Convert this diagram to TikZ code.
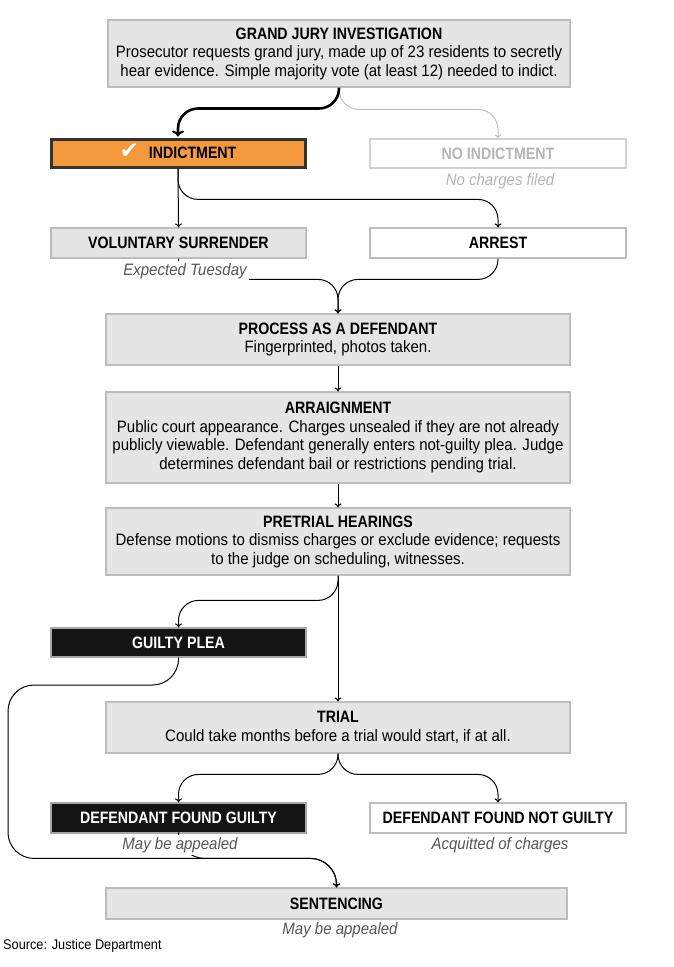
\documentclass[tikz,border=0pt]{standalone}
\usepackage{fontspec}
\setmainfont{Liberation Sans}[FakeStretch=0.91, BoldFeatures={FakeStretch=0.86}]
\newfontfamily\checkfont{DejaVu Sans}
\usepackage{tikz}
\usetikzlibrary{arrows.meta,calc}

\definecolor{boxgray}{HTML}{E5E5E5}
\definecolor{boxline}{HTML}{BDBDBD}
\definecolor{indorange}{HTML}{F49A3D}
\definecolor{darkline}{HTML}{333333}
\definecolor{boxblack}{HTML}{141414}
\definecolor{fadedtext}{HTML}{B5B5B5}
\definecolor{notegray}{HTML}{555555}

\begin{document}
\begin{tikzpicture}[x=1pt,y=-1pt]
	\tikzset{
		stagebox/.style={rectangle, draw=boxline, line width=1.2pt, inner sep=0pt, align=center, font=\fontsize{16.5}{18.5}\selectfont},
		graybox/.style={stagebox, fill=boxgray},
		whitebox/.style={stagebox, fill=white},
		blackbox/.style={stagebox, fill=boxblack, draw=gray!70, text=white, font=\fontsize{16.5}{18.5}\selectfont\bfseries},
		fadedbox/.style={stagebox, fill=white, draw=gray!35, text=fadedtext, font=\fontsize{16.5}{18.5}\selectfont\bfseries},
		notetext/.style={fill=white, inner sep=2pt, text=notegray, font=\fontsize{16.5}{18}\selectfont\itshape},
		flowarrow/.style={-{To[length=4pt,width=7pt]}, line width=1pt, black, rounded corners=20pt},
		mainarrow/.style={-{To[length=6pt,width=12pt,line width=2pt]}, line width=2.6pt, black, rounded corners=20pt},
		fadedarrow/.style={flowarrow, draw=gray!50}
	}
	\useasboundingbox (0,0) rectangle (674,967);

	\node[graybox, minimum width=462pt, minimum height=67pt] (grandJury) at (339,53.5) {\textbf{GRAND JURY INVESTIGATION}\\Prosecutor requests grand jury, made up of 23 residents to secretly\\hear evidence. Simple majority vote (at least 12) needed to indict.};
	\node[stagebox, fill=indorange, draw=darkline, line width=3pt, minimum width=254pt, minimum height=28pt, font=\fontsize{16.5}{18.5}\selectfont\bfseries] (indictment) at (178,153) {\smash{\checkfont\fontsize{23}{19}\selectfont\color{white}\char"2714}\hspace{10pt}INDICTMENT};
	\node[fadedbox, minimum width=256pt, minimum height=29pt] (noIndictment) at (498,153.5) {NO INDICTMENT};
	\node[notetext, text=fadedtext] (noCharges) at (500,181) {No charges filed};

	\node[graybox, minimum width=255pt, minimum height=30pt, font=\fontsize{16.5}{18.5}\selectfont\bfseries] (surrender) at (178.5,243) {VOLUNTARY SURRENDER};
	\node[whitebox, minimum width=256pt, minimum height=30pt, font=\fontsize{16.5}{18.5}\selectfont\bfseries] (arrest) at (498,243) {ARREST};

	\node[graybox, minimum width=464pt, minimum height=51pt] (process) at (338,339.5) {\textbf{PROCESS AS A DEFENDANT}\\Fingerprinted, photos taken.};
	\node[graybox, minimum width=464pt, minimum height=91pt] (arraignment) at (338,437.5) {\textbf{ARRAIGNMENT}\\Public court appearance. Charges unsealed if they are not already\\publicly viewable. Defendant generally enters not-guilty plea. Judge\\determines defendant bail or restrictions pending trial.};
	\node[graybox, minimum width=464pt, minimum height=67pt] (pretrial) at (338,541.5) {\textbf{PRETRIAL HEARINGS}\\Defense motions to dismiss charges or exclude evidence; requests\\to the judge on scheduling, witnesses.};

	\node[blackbox, minimum width=255pt, minimum height=29pt] (guiltyPlea) at (178.5,642.5) {GUILTY PLEA};
	\node[graybox, minimum width=464pt, minimum height=51pt] (trial) at (338,727.5) {\textbf{TRIAL}\\Could take months before a trial would start, if at all.};

	\node[blackbox, minimum width=255pt, minimum height=30pt] (foundGuilty) at (178.5,818) {DEFENDANT FOUND GUILTY};
	\node[whitebox, minimum width=256pt, minimum height=30pt, font=\fontsize{16.5}{18.5}\selectfont\bfseries] (notGuilty) at (498,818) {DEFENDANT FOUND NOT GUILTY};
	\node[graybox, minimum width=461pt, minimum height=31pt, font=\fontsize{16.5}{18.5}\selectfont\bfseries] (sentencing) at (336.5,903.5) {SENTENCING};

	\coordinate (leftRail) at (8,685);

	% connectors, drawn before the notes so that the notes hide their ends
	\draw[fadedarrow] (grandJury.south) |- ([yshift=29pt]noIndictment.north) -- (noIndictment.north);
	\draw[mainarrow] (grandJury.south) |- ([yshift=29pt]indictment.north) -- ([yshift=1pt]indictment.north);
	\draw[flowarrow] (indictment.south) -- (surrender.north);
	\draw[flowarrow] (indictment.south) |- ([yshift=28pt]arrest.north) -- (arrest.north);
	\draw[flowarrow] (surrender.south) |- ([yshift=34pt]process.north) -- (process.north);
	\draw[flowarrow] (arrest.south) |- ([yshift=34pt]process.north) -- (process.north);
	\draw[flowarrow] (process.south) -- (arraignment.north);
	\draw[flowarrow] (arraignment.south) -- (pretrial.north);
	\draw[flowarrow] (pretrial.south) |- ([yshift=27pt]guiltyPlea.north) -- (guiltyPlea.north);
	\draw[flowarrow] (pretrial.south) -- (trial.north);
	\draw[flowarrow, rounded corners=26pt] (guiltyPlea.south) |- (leftRail) |- ([yshift=29pt]sentencing.north) -- (sentencing.north);
	\draw[flowarrow] (trial.south) |- ([yshift=28pt]foundGuilty.north) -- (foundGuilty.north);
	\draw[flowarrow] (trial.south) |- ([yshift=28pt]notGuilty.north) -- (notGuilty.north);
	\draw[flowarrow, rounded corners=26pt] (foundGuilty.south) |- ([yshift=29pt]sentencing.north) -- (sentencing.north);

	\node[notetext, minimum height=21pt] (expected) at (185,271.5) {Expected Tuesday};
	\node[notetext] (guiltyNote) at (180,845) {May be appealed};
	\node[notetext] (acquitted) at (500,845) {Acquitted of charges};
	\node[notetext] (sentenceNote) at (340,930) {May be appealed};
	\node[anchor=west, inner sep=0pt, font=\fontsize{14}{15}\selectfont] (source) at (3,946) {Source: Justice Department};
\end{tikzpicture}
\end{document}
